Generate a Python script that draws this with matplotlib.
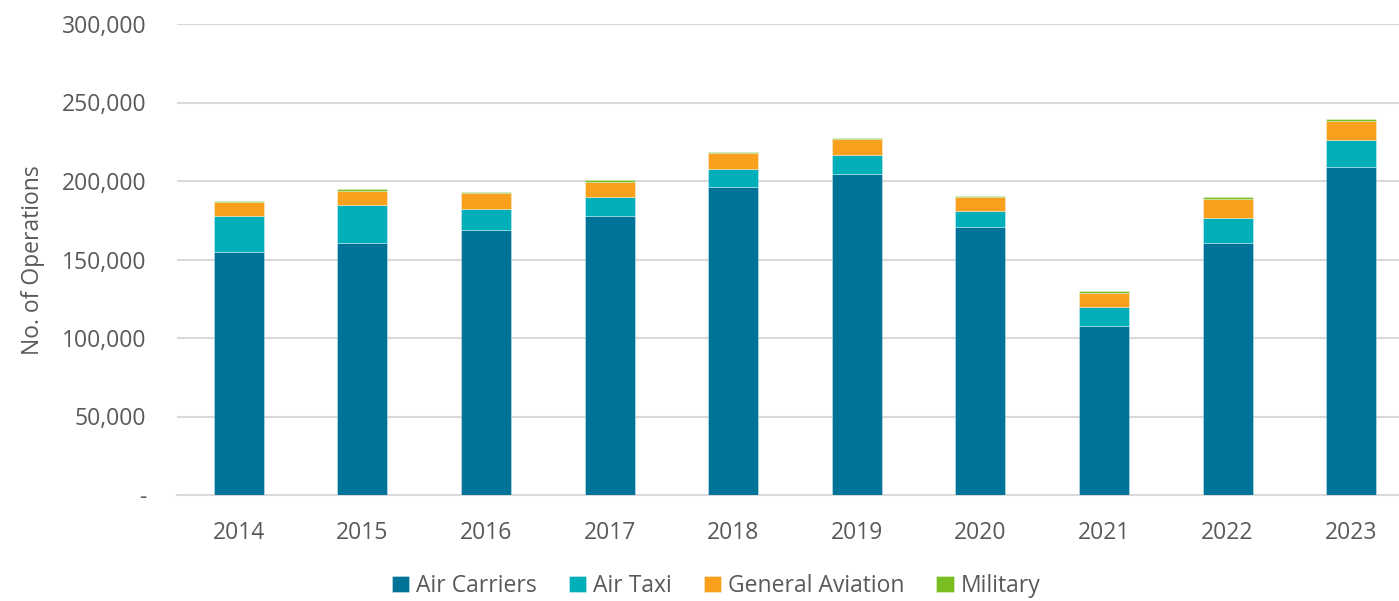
import numpy as np
import matplotlib
matplotlib.use("Agg")
import matplotlib.pyplot as plt
from matplotlib.ticker import FuncFormatter

plt.rcParams['font.family'] = ['Open Sans', 'DejaVu Sans']

# Data
years = ['2014', '2015', '2016', '2017', '2018', '2019', '2020', '2021', '2022', '2023']
air_carriers = [155000, 160300, 168800, 177900, 196000, 204300, 170500, 107800, 160700, 208700]
air_taxi = [22900, 24200, 13600, 12100, 11450, 12100, 10600, 11700, 15500, 17600]
general_aviation = [8700, 9300, 9800, 9600, 10200, 10200, 8500, 9100, 12500, 11900]
military = [600, 1100, 850, 1100, 650, 850, 800, 1100, 1300, 1300]

series = [
    ('Air Carriers', air_carriers, '#007398'),
    ('Air Taxi', air_taxi, '#00AFB7'),
    ('General Aviation', general_aviation, '#F9A11E'),
    ('Military', military, '#78BE20'),
]

grey = '#595959'
fig = plt.figure(figsize=(13.99, 6.01), dpi=100)
ax = fig.add_axes([177 / 1399, 1 - 495 / 601, (1399 - 177) / 1399, 471 / 601])

x = np.arange(len(years))
bottom = np.zeros(len(years))
for name, vals, color in series:
    ax.bar(x, vals, width=0.405, bottom=bottom, color=color, label=name,
           edgecolor=(1, 1, 1, 0.6), linewidth=0.4, zorder=3)
    bottom += np.array(vals)

ax.set_ylim(0, 300000)
ax.set_xlim(-0.5, 9.5 - 14 / 123.6)
ax.set_yticks(range(0, 300001, 50000))
ax.yaxis.set_major_formatter(FuncFormatter(lambda v, p: '-' if v == 0 else f'{int(v):,}'))
ax.set_xticks(x)
ax.set_xticklabels(years)

ax.grid(axis='y', color='#d9d9d9', linewidth=1.5, zorder=0)
for s in ['top', 'right', 'left']:
    ax.spines[s].set_visible(False)
ax.spines['bottom'].set_color('#d9d9d9')
ax.spines['bottom'].set_linewidth(1.5)
ax.tick_params(axis='y', length=0, pad=22, labelsize=16.5, labelcolor=grey)
ax.tick_params(axis='x', length=0, pad=19, labelsize=16.5, labelcolor=grey)

fig.text(33 / 1399, 1 - 260 / 601, 'No. of Operations', rotation=90, ha='center', va='center',
         fontsize=16.5, color=grey)

leg = fig.legend(loc='center', bbox_to_anchor=(716 / 1399, 1 - 586 / 601), ncol=4, frameon=False,
                 fontsize=16.5, handlelength=0.75, handleheight=0.75, handletextpad=0.3,
                 columnspacing=1.4, labelcolor=grey)

fig.savefig('out.png', dpi=100)
